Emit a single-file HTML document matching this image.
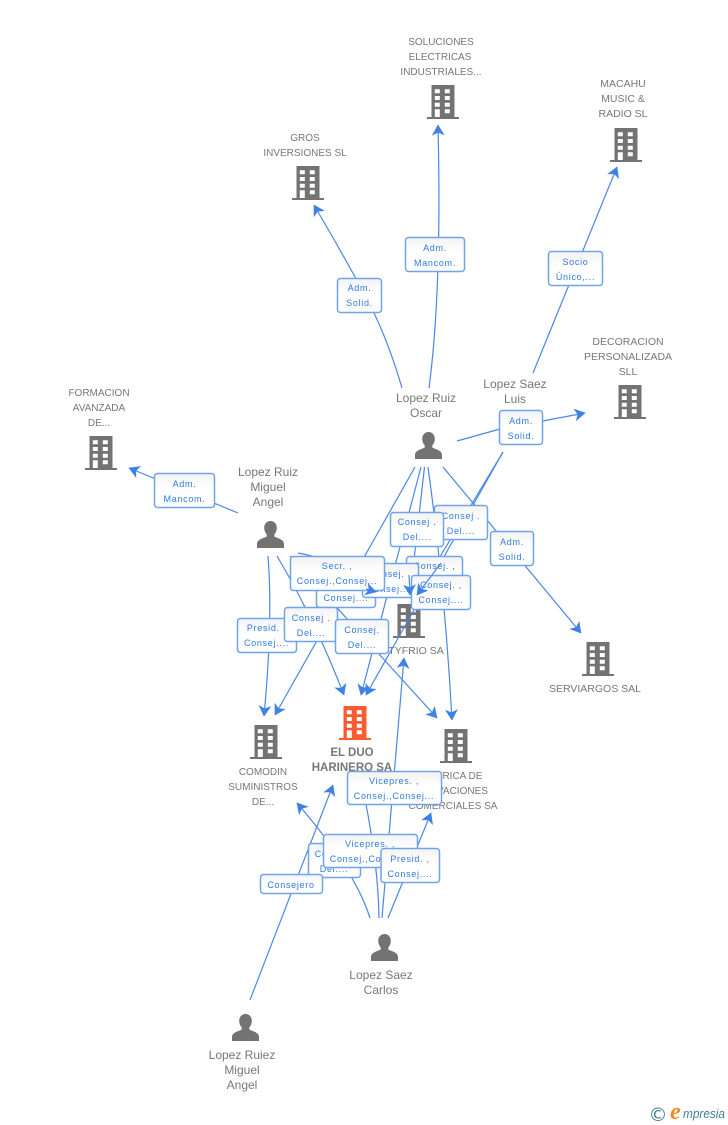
<!DOCTYPE html>
<html><head><meta charset="utf-8">
<style>
html,body{margin:0;padding:0;background:#fff}
svg{display:block}
.t{font:10.5px "Liberation Sans",sans-serif;fill:#777;text-anchor:middle}
.s{font:10px "Liberation Sans",sans-serif;fill:#777;text-anchor:middle}
.n{font:12px "Liberation Sans",sans-serif;fill:#777;text-anchor:middle}
.b{font:bold 11.5px "Liberation Sans",sans-serif;fill:#777;text-anchor:middle}
.l{font:9px "Liberation Sans",sans-serif;fill:#2f7ae0;text-anchor:middle;letter-spacing:.7px}
.c{fill:none;stroke:#4a86e8;stroke-width:1.2}
.x{fill:url(#g);stroke:#6ea4ea;stroke-width:1.5}
</style></head><body>
<svg width="728" height="1125" viewBox="0 0 728 1125" xmlns="http://www.w3.org/2000/svg">
<defs>
<linearGradient id="g" x1="0" y1="0" x2="0" y2="1"><stop offset="0" stop-color="#f3f3f3"/><stop offset=".45" stop-color="#fff"/><stop offset="1" stop-color="#fff"/></linearGradient>
<marker id="a" markerUnits="userSpaceOnUse" markerWidth="14" markerHeight="14" refX="10" refY="6" orient="auto" viewBox="0 0 12 12"><path d="M10.500 6L1 .5L3.500 6L1 11.500Z" fill="#3f82e6"/></marker>
<symbol id="bd" overflow="visible"><path d="M-11.500 0H11.500V32H16V34H-16V32H-11.500ZM-8.200 4.300V8.300H-3.200V4.300ZM1.800 4.300V8.300H6.800V4.300ZM-8.200 11V15H-3.200V11ZM1.800 11V15H6.800V11ZM-8.200 17.700V21.700H-3.200V17.700ZM1.800 17.700V21.700H6.800V17.700ZM-8.200 24.300V32H-3.200V24.300ZM1.800 24.300V28.300H6.800V24.300Z" fill-rule="evenodd"/></symbol>
<symbol id="p" overflow="visible"><path d="M0 0C3.800 0 6.300 3 6.300 6.800C6.300 9.500 5.300 12 3.800 13.500V15.500C6 17 13.500 18 13.500 23V27H-13.500V23C-13.500 18 -6 17 -3.800 15.500V13.500C-5.300 12 -6.300 9.500 -6.300 6.800C-6.300 3 -3.800 0 0 0Z" fill="#737373"/></symbol>
</defs>

<!-- buildings -->
<g fill="#737373">
<use href="#bd" x="443" y="85"/><use href="#bd" x="626" y="128"/><use href="#bd" x="308" y="166"/>
<use href="#bd" x="630" y="385"/><use href="#bd" x="101" y="436"/><use href="#bd" x="409" y="604"/>
<use href="#bd" x="598" y="642"/><use href="#bd" x="266" y="725"/><use href="#bd" x="456" y="729"/>
</g>
<use href="#bd" x="355" y="706" fill="#f95d2f"/>
<use href="#p" x="428.500" y="432"/><use href="#p" x="270.500" y="521"/><use href="#p" x="384.500" y="934"/><use href="#p" x="245.500" y="1014"/>

<!-- node labels -->
<text class="s" x="441" y="45">SOLUCIONES</text><text class="s" x="440" y="60">ELECTRICAS</text><text class="s" x="441" y="75">INDUSTRIALES...</text>
<text class="t" x="623" y="87">MACAHU</text><text class="t" x="623" y="102">MUSIC &amp;</text><text class="t" x="623" y="117">RADIO SL</text>
<text class="s" x="305" y="141">GROS</text><text class="s" x="305" y="156">INVERSIONES SL</text>
<text class="t" x="628" y="345">DECORACION</text><text class="t" x="628" y="360">PERSONALIZADA</text><text class="t" x="628" y="375">SLL</text>
<text class="s" x="99" y="396">FORMACION</text><text class="s" x="99" y="411">AVANZADA</text><text class="s" x="99" y="426">DE...</text>
<text class="n" x="426" y="402">Lopez Ruiz</text><text class="n" x="426" y="417">Oscar</text>
<text class="n" x="515" y="388">Lopez Saez</text><text class="n" x="515" y="403">Luis</text>
<text class="n" x="268" y="476">Lopez Ruiz</text><text class="n" x="268" y="491">Miguel</text><text class="n" x="268" y="506">Angel</text>
<text class="t" x="416" y="654">TYFRIO SA</text>
<text class="t" x="595" y="692">SERVIARGOS SAL</text>
<text class="s" x="263" y="775">COMODIN</text><text class="s" x="263" y="790">SUMINISTROS</text><text class="s" x="263" y="805">DE...</text>
<text class="b" x="352" y="756">EL DUO</text><text class="b" x="352" y="771">HARINERO SA</text>
<text class="s" x="453" y="779">FABRICA DE</text><text class="s" x="453" y="794">ELEVACIONES</text><text class="s" x="453" y="809">COMERCIALES SA</text>
<text class="n" x="381" y="979">Lopez Saez</text><text class="n" x="381" y="994">Carlos</text>
<text class="n" x="242" y="1059">Lopez Ruiez</text><text class="n" x="242" y="1074">Miguel</text><text class="n" x="242" y="1089">Angel</text>

<!-- connectors -->
<g class="c">
<path d="M402 388Q388 340 370 305T314 205" marker-end="url(#a)"/>
<path d="M429 388Q442 290 438 125" marker-end="url(#a)"/>
<path d="M533 373L617 167" marker-end="url(#a)"/>
<path d="M457 441L500 429L585 413" marker-end="url(#a)"/>
<path d="M238 513L129 468" marker-end="url(#a)"/>
<path d="M443 467L581 633" marker-end="url(#a)"/>
<path d="M415 467L275 715" marker-end="url(#a)"/>
<path d="M421 467L361 695" marker-end="url(#a)"/>
<path d="M424.500 467L410 595" marker-end="url(#a)"/>
<path d="M428 467Q445 590 452 720" marker-end="url(#a)"/>
<path d="M503 452L417 595"/>
<path d="M503 452L366 695" marker-end="url(#a)"/>
<path d="M268 556Q273 620 264 716" marker-end="url(#a)"/>
<path d="M277 556Q315 620 344 695" marker-end="url(#a)"/>
<path d="M290 556L437 718" marker-end="url(#a)"/>
<path d="M298 553Q340 560 376 592" marker-end="url(#a)"/>
<path d="M370 918Q355 870 297 803" marker-end="url(#a)"/>
<path d="M379 918Q378 860 363 790"/>
<path d="M382 918L404 658" marker-end="url(#a)"/>
<path d="M388 918L431 813" marker-end="url(#a)"/>
<path d="M250 1000L333 785" marker-end="url(#a)"/>
</g>

<!-- connector labels -->
<rect class="x" x="337.500" y="278.500" width="44" height="34" rx="3"/><text class="l" x="359.500" y="291">Adm.</text><text class="l" x="359.500" y="306">Solid.</text>
<rect class="x" x="405.500" y="237.500" width="59" height="34" rx="3"/><text class="l" x="435" y="251">Adm.</text><text class="l" x="435" y="266">Mancom.</text>
<rect class="x" x="548.500" y="251.500" width="54" height="34" rx="3"/><text class="l" x="575.500" y="265">Socio</text><text class="l" x="575.500" y="280">Único,...</text>
<rect class="x" x="499.500" y="410.500" width="43" height="34" rx="3"/><text class="l" x="521" y="424">Adm.</text><text class="l" x="521" y="439">Solid.</text>
<rect class="x" x="154.500" y="473.500" width="60" height="34" rx="3"/><text class="l" x="184.500" y="487">Adm.</text><text class="l" x="184.500" y="502">Mancom.</text>
<rect class="x" x="490.500" y="531.500" width="43" height="34" rx="3"/><text class="l" x="512" y="545">Adm.</text><text class="l" x="512" y="560">Solid.</text>

<rect class="x" x="434.500" y="505.500" width="53" height="34" rx="3"/><text class="l" x="461" y="519">Consej .</text><text class="l" x="461" y="534">Del....</text>
<rect class="x" x="390.500" y="512.500" width="53" height="34" rx="3"/><text class="l" x="417" y="525">Consej .</text><text class="l" x="417" y="540">Del....</text>
<rect class="x" x="406.500" y="556.500" width="56" height="34" rx="3"/><text class="l" x="434.500" y="569">Consej. ,</text>
<rect class="x" x="316.500" y="573.500" width="59" height="34" rx="3"/><text class="l" x="346" y="601">Consej....</text>
<rect class="x" x="362.500" y="563.500" width="56" height="34" rx="3"/><text class="l" x="390" y="577">Consej. ,</text><text class="l" x="390" y="592">Consej....</text>
<rect class="x" x="290.500" y="556.500" width="94" height="34" rx="3"/><text class="l" x="337" y="569">Secr. ,</text><text class="l" x="337" y="584">Consej.,Consej...</text>
<rect class="x" x="411.500" y="575.500" width="59" height="34" rx="3"/><text class="l" x="441" y="588">Consej. ,</text><text class="l" x="441" y="603">Consej....</text>
<rect class="x" x="237.500" y="618.500" width="59" height="34" rx="3"/><text class="l" x="266.500" y="631">Presid. ,</text><text class="l" x="266.500" y="646">Consej....</text>
<rect class="x" x="284.500" y="607.500" width="53" height="34" rx="3"/><text class="l" x="311" y="621">Consej .</text><text class="l" x="311" y="636">Del....</text>
<rect class="x" x="335.500" y="619.500" width="53" height="34" rx="3"/><text class="l" x="362" y="633">Consej.</text><text class="l" x="362" y="648">Del....</text>

<rect class="x" x="347.500" y="771.500" width="94" height="33" rx="3"/><text class="l" x="394" y="784">Vicepres. ,</text><text class="l" x="394" y="799">Consej.,Consej...</text>
<rect class="x" x="308.500" y="843.500" width="52" height="34" rx="3"/><text class="l" x="334" y="857">Consej .</text><text class="l" x="334" y="872">Del....</text>
<rect class="x" x="323.500" y="834.500" width="94" height="33" rx="3"/><text class="l" x="370" y="847">Vicepres. ,</text><text class="l" x="370" y="862">Consej.,Consej...</text>
<rect class="x" x="381" y="848.500" width="58.500" height="34" rx="3"/><text class="l" x="410" y="862">Presid. ,</text><text class="l" x="410" y="877">Consej....</text>
<rect class="x" x="260.500" y="874.500" width="62" height="19" rx="3"/><text class="l" x="291" y="888">Consejero</text>

<!-- arrows above the labels -->
<g class="c">
<path d="M441 563L417 595" marker-end="url(#a)"/>
<path d="M409 575L410 595" marker-end="url(#a)"/>
<path d="M366 589L376 592" marker-end="url(#a)"/>
</g>

<!-- footer -->
<text x="658" y="1121" style="font:19px 'DejaVu Sans',sans-serif;fill:#3f7f93" text-anchor="middle">©</text>
<text x="670" y="1119" style="font:italic bold 24px 'Liberation Serif',serif;fill:#f08a24">e</text>
<text x="683" y="1118" textLength="42" lengthAdjust="spacingAndGlyphs" style="font:italic 13px 'Liberation Sans',sans-serif;fill:#3f7f93">mpresia</text>
</svg>
</body></html>
